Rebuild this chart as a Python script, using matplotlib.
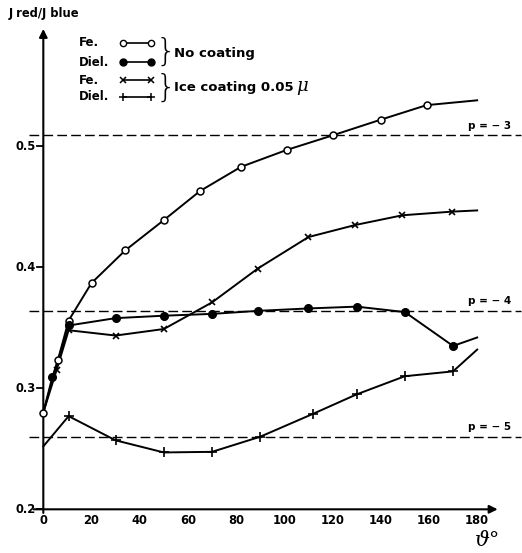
import numpy as np
import matplotlib
matplotlib.use("Agg")
import matplotlib.pyplot as plt

plt.rcParams["font.family"] = ["DejaVu Sans"]

# Fe, no coating (open circles)
fe_x = [0, 6, 10.5, 20, 34, 50, 65, 82, 101, 120, 140, 159, 180]
fe_y = [0.280, 0.323, 0.356, 0.387, 0.414, 0.439, 0.463, 0.483, 0.497, 0.509, 0.522, 0.534, 0.538]

# Dielectric, no coating (filled dots)
diel_x = [0, 3.7, 10.8, 30, 50, 70, 89, 110, 130, 150, 170, 180]
diel_y = [0.280, 0.309, 0.352, 0.358, 0.360, 0.3615, 0.364, 0.366, 0.3675, 0.363, 0.335, 0.342]

# Fe, ice coating 0.05 mu (crosses)
fe_ice_x = [0, 5.5, 10.5, 30, 50, 70, 89, 110, 129.5, 149, 169.5, 180]
fe_ice_y = [0.280, 0.315, 0.348, 0.3436, 0.349, 0.371, 0.399, 0.425, 0.435, 0.443, 0.446, 0.447]

# Dielectric, ice coating 0.05 mu (plus signs)
diel_ice_x = [0, 10.5, 30, 50, 70, 90, 112, 130, 150, 170, 180]
diel_ice_y = [0.252, 0.277, 0.257, 0.247, 0.2475, 0.260, 0.279, 0.295, 0.310, 0.314, 0.332]

# reference levels
p_levels = [0.509, 0.364, 0.260]
p_labels = ["p = \u2212 3", "p = \u2212 4", "p = \u2212 5"]

x_ticks = [0, 20, 40, 60, 80, 100, 120, 140, 160, 180]
y_ticks = [0.2, 0.3, 0.4, 0.5]

W, H = 522, 553
fig = plt.figure(figsize=(W / 100, H / 100), dpi=100)
ax = fig.add_axes([0, 0, 1, 1])
ax.set_xlim(-17.97, 198.6)
ax.set_ylim(0.1639, 0.6209)
ax.axis("off")

FONT = dict(family="DejaVu Sans", weight="bold", color="black")
LW = 1.4


def px(x, y):
    # figure pixel -> axes fraction
    return x / W, 1 - y / H


# curves: line through every point, markers on the measured points only
ax.plot(fe_x, fe_y, color="black", lw=LW, zorder=3)
ax.plot(fe_x[:-1], fe_y[:-1], ls="none", marker="o", ms=5, mfc="white",
        mec="black", mew=1.1, zorder=4)

ax.plot(diel_x, diel_y, color="black", lw=LW, zorder=3)
ax.plot(diel_x[1:-1], diel_y[1:-1], ls="none", marker="o", ms=5.5,
        mfc="black", mec="black", zorder=4)

ax.plot(fe_ice_x, fe_ice_y, color="black", lw=LW, zorder=3)
ax.plot(fe_ice_x[1:-1], fe_ice_y[1:-1], ls="none", marker="x", ms=5,
        mec="black", mew=1.2, zorder=4)

ax.plot(diel_ice_x, diel_ice_y, color="black", lw=LW, zorder=3)
ax.plot(diel_ice_x[1:-1], diel_ice_y[1:-1], ls="none", marker="+", ms=7,
        mec="black", mew=1.2, zorder=4)

# dashed reference lines with labels
for lev, lab in zip(p_levels, p_labels):
    ax.plot([-6, 198], [lev, lev], color="black", lw=1.0,
            ls=(0, (7, 3)), zorder=2)
    ax.text(194, lev + 0.004, lab, ha="right", va="bottom", fontsize=7.5,
            **FONT)

# axes with arrows
ax.annotate("", xy=(0, 0.597), xytext=(0, 0.197),
            arrowprops=dict(arrowstyle="-|>", lw=1.5, color="black",
                            mutation_scale=12, shrinkA=0, shrinkB=0))
ax.annotate("", xy=(188.5, 0.2), xytext=(-4, 0.2),
            arrowprops=dict(arrowstyle="-|>", lw=1.5, color="black",
                            mutation_scale=12, shrinkA=0, shrinkB=0))

for yt in y_ticks:
    ax.plot([-2.6, 0], [yt, yt], color="black", lw=1.3)
    ax.text(-3.2, yt, f"{yt:.1f}", ha="right", va="center", fontsize=8.3,
            **FONT)
for xt in x_ticks:
    ax.text(xt, 0.1905, str(xt), ha="center", va="center", fontsize=8.3,
            **FONT)

ax.text(*px(488, 541), "\u03d1\u00b0", transform=ax.transAxes, ha="center",
        va="center", fontsize=15, style="italic", family="DejaVu Serif")
ax.text(*px(9, 14), "J red/J blue", transform=ax.transAxes, ha="left",
        va="center", fontsize=8.3, **FONT)

# legend drawn by hand: label, sample, brace, description
rows = [
    ("Fe.", 43, dict(marker="o", mfc="white", ms=4.5, mew=1.0)),
    ("Diel.", 62, dict(marker="o", mfc="black", ms=5)),
    ("Fe.", 80, dict(marker="x", ms=4.5, mew=1.1)),
    ("Diel.", 97, dict(marker="+", ms=6, mew=1.1)),
]
for label, y, mk in rows:
    ax.text(*px(79, y), label, transform=ax.transAxes, ha="left",
            va="center", fontsize=8.5, **FONT)
    xa, ya = px(123, y)
    xb, _ = px(151, y)
    ax.plot([xa, xb], [ya, ya], transform=ax.transAxes, color="black",
            lw=1.2, mec="black", **mk)

ax.text(*px(156, 52), "}", transform=ax.transAxes, ha="left", va="center",
        fontsize=23, family="DejaVu Sans", weight="light")
ax.text(*px(156, 88), "}", transform=ax.transAxes, ha="left", va="center",
        fontsize=23, family="DejaVu Sans", weight="light")
ax.text(*px(174, 54), "No coating", transform=ax.transAxes, ha="left",
        va="center", fontsize=9.5, **FONT)
desc = ax.text(*px(174, 88), "Ice coating 0.05", transform=ax.transAxes,
               ha="left", va="center", fontsize=9.5, **FONT)

# place the mu symbol right after the description text
fig.canvas.draw()
bb = desc.get_window_extent()
ax.text(bb.x1 / W + 3 / W, 1 - 86 / H, "\u03bc", transform=ax.transAxes,
        ha="left", va="center", fontsize=13, style="italic",
        family="DejaVu Serif")

fig.savefig("out.png", dpi=100, facecolor="white")
